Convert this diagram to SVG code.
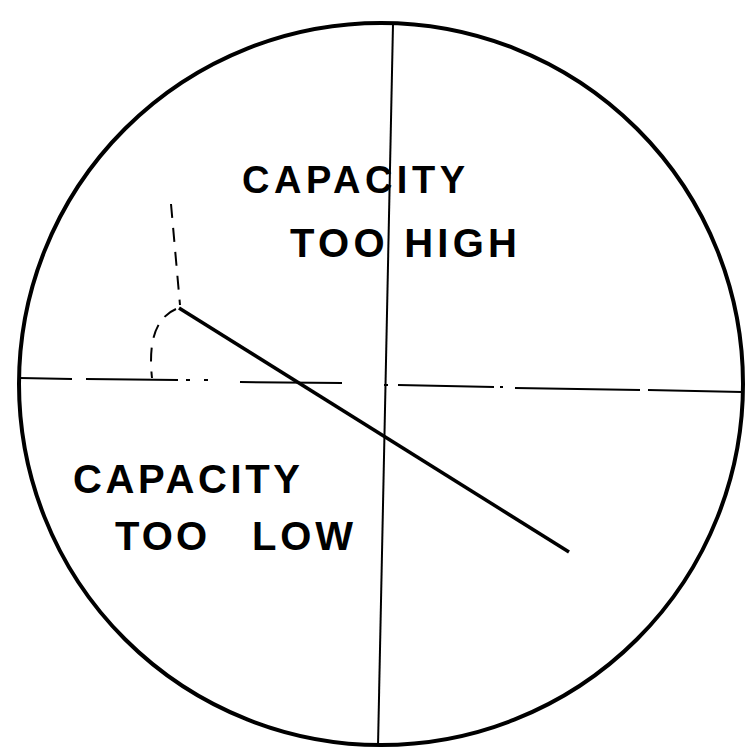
<svg xmlns="http://www.w3.org/2000/svg" width="748" height="750" viewBox="0 0 748 750">
<style>
.lbl{font-family:"Liberation Sans",Arial,sans-serif;font-weight:bold;fill:#000}
.thin{stroke:#000;stroke-width:2;fill:none}
.dash{stroke:#000;stroke-width:2;fill:none;stroke-dasharray:14 10}
</style>
<rect width="748" height="750" fill="#fff"/>
<g id="dial">
<ellipse cx="381" cy="384" rx="362" ry="361" fill="none" stroke="#000" stroke-width="4"/>
</g>
<g id="axes">
<line class="thin" x1="393" y1="24" x2="378" y2="746"/>
<path class="thin" d="M20 378 L72 379 M86 379 L178 380 M186 380 L190 380 M204 380 L208 380 M240 382 L342 383 M384 385 L388 385 M398 385 L494 387 M500 387 L503 387 M515 388 L640 390 M648 390 L742 392"/>
</g>
<g id="needle">
<line x1="179" y1="308" x2="569" y2="552" stroke="#000" stroke-width="3.5"/>
</g>
<g id="angle">
<path class="dash" d="M171 204 L180 305"/>
<path class="dash" d="M176 309 Q146 322 152 378"/>
</g>
<g id="labels">
<text class="lbl" x="242" y="193" font-size="38" textLength="223" lengthAdjust="spacing">CAPACITY</text>
<text class="lbl" x="290" y="257" font-size="40" textLength="227" lengthAdjust="spacing">TOO HIGH</text>
<text class="lbl" x="73" y="493" font-size="40" textLength="227" lengthAdjust="spacing">CAPACITY</text>
<text class="lbl" font-size="40" y="550"><tspan x="115" textLength="92" lengthAdjust="spacing">TOO</tspan><tspan x="252" textLength="101" lengthAdjust="spacing">LOW</tspan></text>
</g>
</svg>
